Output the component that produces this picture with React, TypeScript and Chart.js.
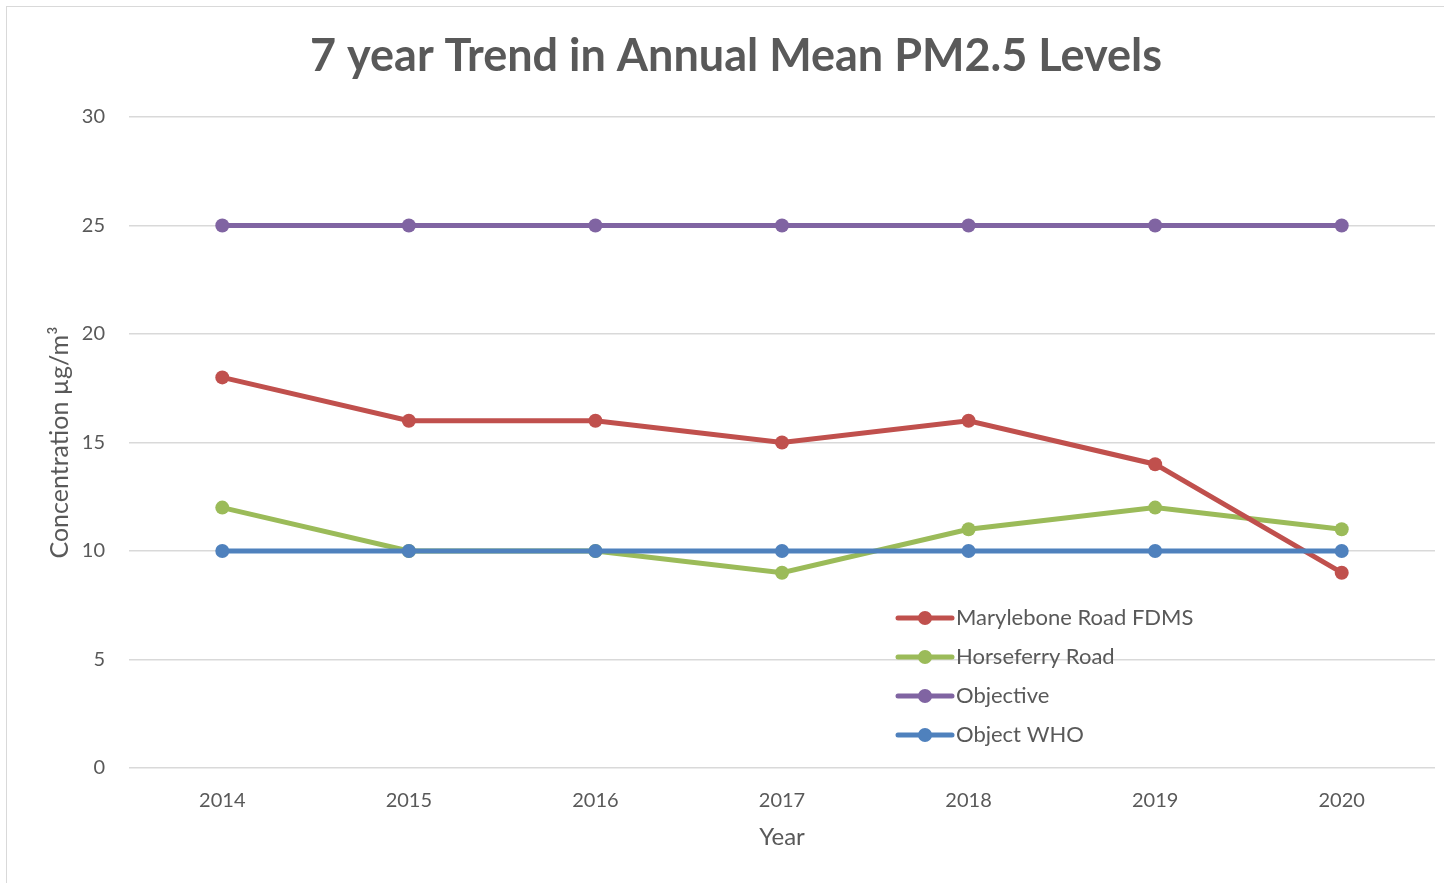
import React, { useEffect, useRef } from "react";
import { Chart, registerables } from "chart.js";

Chart.register(...registerables);

const years = ["2014", "2015", "2016", "2017", "2018", "2019", "2020"];
const marylebone = [18, 16, 16, 15, 16, 14, 9];
const horseferry = [12, 10, 10, 9, 11, 12, 11];
const objective = [25, 25, 25, 25, 25, 25, 25];
const objectWHO = [10, 10, 10, 10, 10, 10, 10];
const seriesNames = ["Marylebone Road FDMS", "Horseferry Road", "Objective", "Object WHO"];
const seriesColors = ["#C0504D", "#9BBB59", "#8064A2", "#4F81BD"];
const yTicks = [0, 5, 10, 15, 20, 25, 30];

const FONT = "Lato, Calibri, 'Liberation Sans', sans-serif";
const TEXT = "#595959";

const framePlugin = {
  id: "frame",
  beforeDraw(chart: any) {
    const ctx = chart.ctx;
    ctx.save();
    ctx.fillStyle = "#ffffff";
    ctx.fillRect(0, 0, chart.width, chart.height);
    ctx.strokeStyle = "#d9d9d9";
    ctx.lineWidth = 1;
    ctx.strokeRect(6.5, 6.5, chart.width + 20, chart.height + 20);
    ctx.restore();
  },
};

const legendPlugin = {
  id: "customLegend",
  afterDraw(chart: any) {
    const ctx = chart.ctx;
    const x0 = 898;
    const y0 = 618;
    const step = 39;
    ctx.save();
    chart.data.datasets.forEach((ds: any, i: number) => {
      const y = y0 + i * step;
      ctx.strokeStyle = ds.borderColor;
      ctx.lineWidth = 5;
      ctx.lineCap = "round";
      ctx.beginPath();
      ctx.moveTo(x0, y);
      ctx.lineTo(x0 + 54, y);
      ctx.stroke();
      ctx.fillStyle = ds.borderColor;
      ctx.beginPath();
      ctx.arc(x0 + 27, y, 7, 0, Math.PI * 2);
      ctx.fill();
      ctx.fillStyle = TEXT;
      ctx.font = `22px ${FONT}`;
      ctx.textBaseline = "middle";
      ctx.textAlign = "left";
      ctx.fillText(ds.label, x0 + 58, y);
    });
    ctx.restore();
  },
};

export default function App() {
  const ref = useRef<HTMLCanvasElement | null>(null);
  useEffect(() => {
    if (!ref.current) return;
    const allData = [marylebone, horseferry, objective, objectWHO];
    const orders = [2, 3, 1, 0];
    const chart = new Chart(ref.current, {
      type: "line",
      data: {
        labels: years,
        datasets: allData.map((d, i) => ({
          label: seriesNames[i],
          data: d,
          borderColor: seriesColors[i],
          backgroundColor: seriesColors[i],
          pointBackgroundColor: seriesColors[i],
          pointBorderColor: seriesColors[i],
          pointRadius: 7,
          pointBorderWidth: 0,
          borderWidth: 5,
          tension: 0,
          order: orders[i],
        })),
      },
      options: {
        animation: false,
        responsive: false,
        maintainAspectRatio: false,
        layout: { padding: { left: 37, right: 9, top: 6, bottom: 0 } },
        plugins: {
          legend: { display: false },
          tooltip: { enabled: false },
          title: {
            display: true,
            text: "7 year Trend in Annual Mean PM2.5 Levels",
            color: TEXT,
            font: { family: FONT, size: 45, weight: "bold" },
            padding: { top: 23, bottom: 34 },
          },
        },
        scales: {
          x: {
            offset: true,
            grid: { display: false, drawTicks: false },
            border: { display: false },
            ticks: { color: TEXT, font: { family: FONT, size: 20 }, padding: 21 },
            title: {
              display: true,
              text: "Year",
              color: TEXT,
              font: { family: FONT, size: 24 },
              padding: { top: 0, bottom: 31 },
            },
            afterFit(scale: any) {
              scale.height = 115;
            },
          },
          y: {
            min: 0,
            max: 30,
            afterBuildTicks(scale: any) {
              scale.ticks = yTicks.map((v) => ({ value: v }));
            },
            grid: { color: "#d9d9d9", lineWidth: 1.5, drawTicks: false },
            border: { display: false },
            ticks: { color: TEXT, font: { family: FONT, size: 20 }, padding: 24 },
            title: {
              display: true,
              text: "Concentration µg/m³",
              color: TEXT,
              font: { family: FONT, size: 25 },
              padding: { top: 8, bottom: 0 },
            },
            afterFit(scale: any) {
              scale.width = 92;
            },
          },
        },
      },
      plugins: [framePlugin, legendPlugin],
    } as any);
    return () => chart.destroy();
  }, []);
  return (
    <div style={{ position: "fixed", left: 0, top: 0, width: 1444, height: 883 }}>
      <canvas ref={ref} width={1444} height={883} style={{ display: "block" }} />
    </div>
  );
}
